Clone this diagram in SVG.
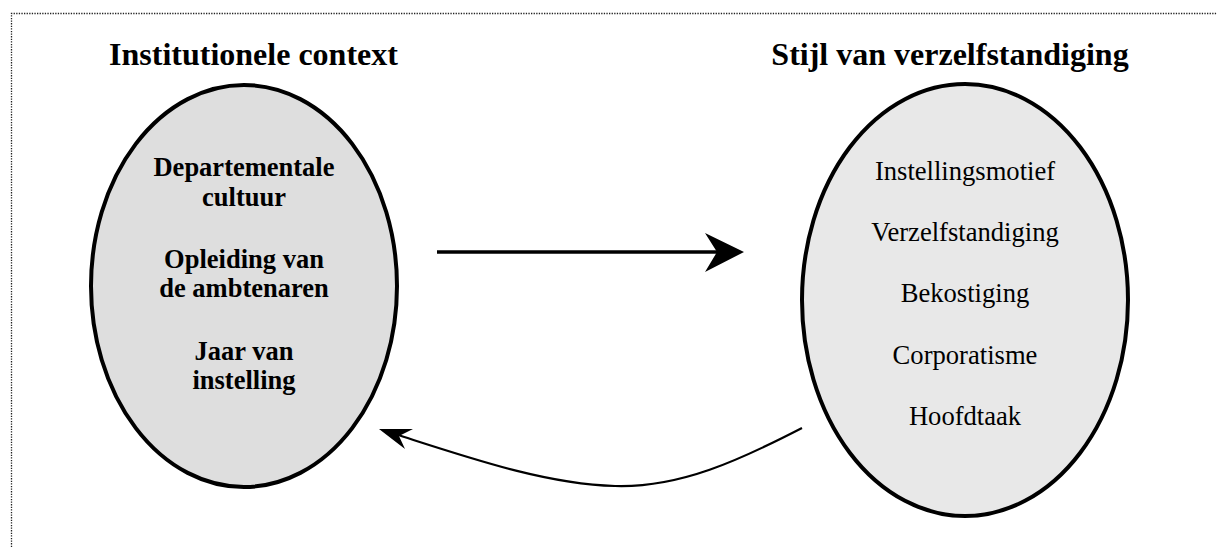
<svg xmlns="http://www.w3.org/2000/svg" width="1217" height="547" viewBox="0 0 1217 547">
<style>
.border{fill:none;stroke:#222;stroke-width:1.3;stroke-dasharray:1.3 1.3}
.ell{stroke:#000;stroke-width:4}
.title{font-family:"Liberation Serif","Times New Roman",serif;font-weight:bold;font-size:32px;text-anchor:middle;fill:#000}
.b{font-family:"Liberation Serif","Times New Roman",serif;font-weight:bold;font-size:26.5px;text-anchor:middle;fill:#000}
.r{font-family:"Liberation Serif","Times New Roman",serif;font-size:26.6px;text-anchor:middle;fill:#000}
.conn{fill:none;stroke:#000}
</style>
<rect width="1217" height="547" fill="#fff"/>
<path class="border" d="M11.5,547 V13.5 H1217"/>
<g id="institutionele-context">
<text class="title" x="253.5" y="65">Institutionele context</text>
<ellipse class="ell" cx="244" cy="286" rx="153" ry="201" fill="#dedede"/>
<text class="b" x="244" y="176">Departementale</text>
<text class="b" x="244" y="206">cultuur</text>
<text class="b" x="244" y="268">Opleiding van</text>
<text class="b" x="244" y="297">de ambtenaren</text>
<text class="b" x="244" y="360">Jaar van</text>
<text class="b" x="244" y="389">instelling</text>
</g>
<g id="stijl-van-verzelfstandiging">
<text class="title" x="950" y="65">Stijl van verzelfstandiging</text>
<ellipse class="ell" cx="965" cy="300" rx="163" ry="216" fill="#e8e8e8"/>
<text class="r" x="965" y="180">Instellingsmotief</text>
<text class="r" x="965" y="241">Verzelfstandiging</text>
<text class="r" x="965" y="302">Bekostiging</text>
<text class="r" x="965" y="364">Corporatisme</text>
<text class="r" x="965" y="425">Hoofdtaak</text>
</g>
<g id="connectors">
<line class="conn" x1="437" y1="252" x2="720" y2="252" stroke-width="3.5"/>
<polygon points="744,252 705,233 717,252 705,272" fill="#000"/>
<path class="conn" stroke-width="2.2" d="M802,428 C740,460 680,488 615,486 C545,484 470,458 395,434"/>
<polygon points="379,429 413,429 399,436 405,449" fill="#000"/>
</g>
</svg>
